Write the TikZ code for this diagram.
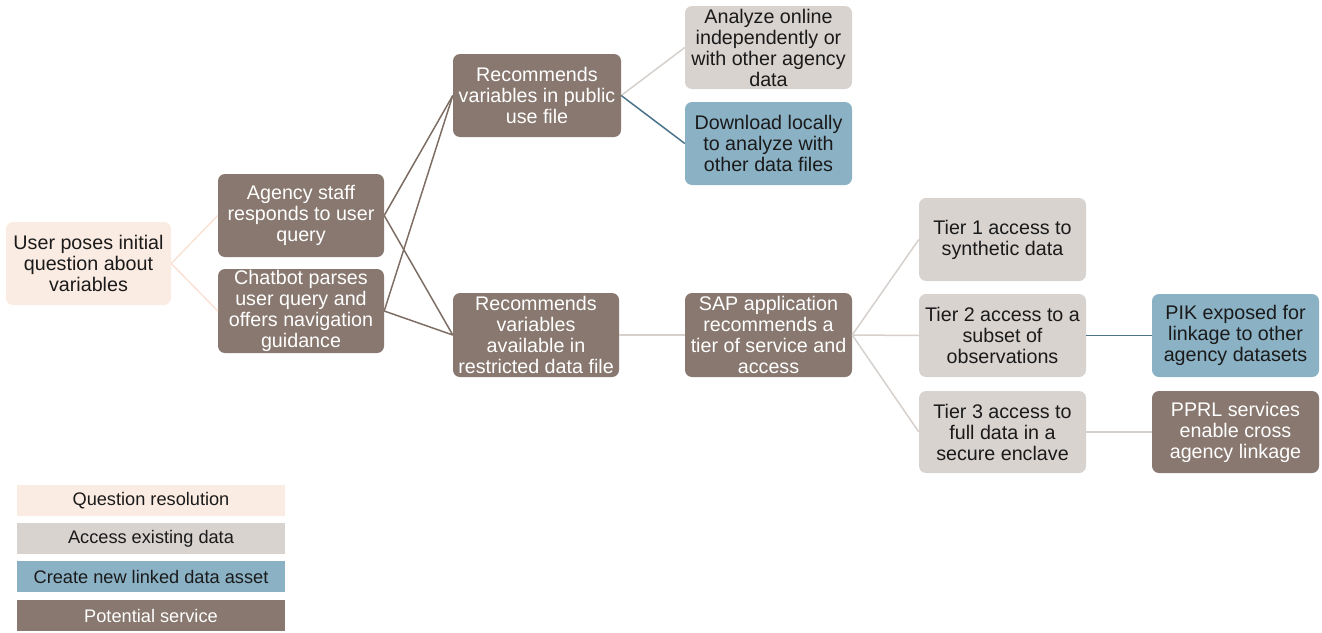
\documentclass[tikz,border=0pt]{standalone}
\usepackage{fontspec}
\setmainfont{Liberation Sans}
\definecolor{peach}{HTML}{FBECE3}
\definecolor{stone}{HTML}{D9D3D0}
\definecolor{sky}{HTML}{8BB1C4}
\definecolor{umber}{HTML}{88786F}
\definecolor{peachline}{HTML}{FAE2D4}
\definecolor{stoneline}{HTML}{D6D0CC}
\definecolor{umberline}{HTML}{7E6E65}
\definecolor{skyline}{HTML}{4A7289}
\definecolor{ink}{HTML}{1A1A1A}
\tikzset{
  box/.style={rounded corners=7pt, inner sep=0pt, align=center,
    font=\fontsize{19.7}{21}\selectfont},
  qbox/.style={box, fill=peach, text=ink},
  abox/.style={box, fill=stone, text=ink},
  cbox/.style={box, fill=sky, text=ink},
  sbox/.style={box, fill=umber, text=white},
  lgd/.style={inner sep=0pt, font=\fontsize{18.2}{20}\selectfont,
    minimum width=268pt, minimum height=31pt},
  link/.style={line width=1.5pt},
}
% box helper: style, left, top, right, bottom, name
\newcommand{\boxnode}[6]{%
  \node[#1, minimum width={#4-#2}, minimum height={#5-#3}] (#6) at ({(#2+#4)/2},{(#3+#5)/2})}
\begin{document}
\begin{tikzpicture}[x=1pt,y=-1pt]
\useasboundingbox (0,0) rectangle (1322,632);
\boxnode{qbox}{6}{222}{171}{305}{user} {User poses initial\\question about\\variables};
\boxnode{sbox}{218}{174}{384}{257}{staff} {Agency staff\\responds to user\\query};
\boxnode{sbox}{218}{269}{384}{353}{chat} {Chatbot parses\\user query and\\offers navigation\\guidance};
\boxnode{sbox}{453}{54}{621}{137}{pub} {Recommends\\variables in public\\use file};
\boxnode{sbox}{453}{293}{619}{377}{rest} {Recommends\\variables\\available in\\restricted data file};
\boxnode{abox}{685}{6}{852}{89}{online} {Analyze online\\independently or\\with other agency\\data};
\boxnode{cbox}{685}{102}{852}{185}{down} {Download locally\\to analyze with\\other data files};
\boxnode{sbox}{685}{293}{852}{377}{sap} {SAP application\\recommends a\\tier of service and\\access};
\boxnode{abox}{919}{198}{1086}{281}{tone} {Tier 1 access to\\synthetic data};
\boxnode{abox}{919}{294}{1086}{377}{ttwo} {Tier 2 access to a\\subset of\\observations};
\boxnode{abox}{919}{391}{1086}{473}{tthree} {Tier 3 access to\\full data in a\\secure enclave};
\boxnode{cbox}{1152}{294}{1319}{377}{pik} {PIK exposed for\\linkage to other\\agency datasets};
\boxnode{sbox}{1152}{391}{1319}{473}{pprl} {PPRL services\\enable cross\\agency linkage};

% connectors
\draw[link, peachline] (user.east) -- (staff.west);
\draw[link, peachline] (user.east) -- (chat.west);
\draw[link, umberline] (staff.east) -- (pub.west);
\draw[link, umberline] (staff.east) -- (rest.west);
\draw[link, umberline] (chat.east) -- (pub.west);
\draw[link, umberline] (chat.east) -- (rest.west);
\draw[link, stoneline] (pub.east) -- (online.west);
\draw[link, skyline] (pub.east) -- (down.west);
\draw[link, stoneline] (rest.east) -- (sap.west);
\draw[link, stoneline] (sap.east) -- (tone.west);
\draw[link, stoneline] (sap.east) -- (ttwo.west);
\draw[link, stoneline] (sap.east) -- (tthree.west);
\draw[link, skyline] (ttwo.east) -- (pik.west);
\draw[link, stoneline] (tthree.east) -- (pprl.west);

% legend bars, labels set slightly left of centre
\node[lgd, fill=peach, text=ink] (lq) at (151,500.5) {Question resolution\hspace{5pt}};
\node[lgd, fill=stone, text=ink] (la) at (151,538.5) {Access existing data\hspace{5pt}};
\node[lgd, fill=sky, text=ink] (lc) at (151,576.5) {Create new linked data asset\hspace{5pt}};
\node[lgd, fill=umber, text=white] (ls) at (151,615.5) {Potential service\hspace{5pt}};
\end{tikzpicture}
\end{document}
